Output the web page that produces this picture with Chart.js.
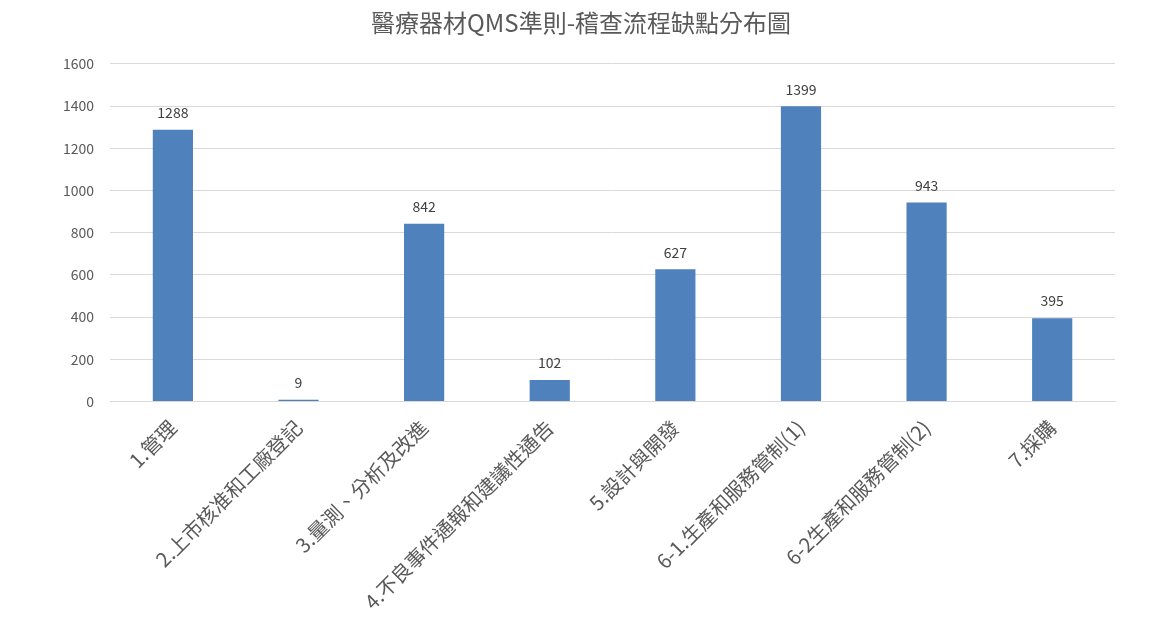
<!DOCTYPE html>
<html>
<head>
<meta charset="utf-8">
<script src="https://cdn.jsdelivr.net/npm/chart.js@4"></script>
<style>
    html, body { margin: 0; padding: 0; background: #fff; }
    #wrap { width: 1171px; height: 627px; }
</style>
</head>
<body>
<div id="wrap"><canvas id="qmsChart"></canvas></div>
<script>
const TITLE = "醫療器材QMS準則-稽查流程缺點分布圖";

// categories
const categories = [
    "1.管理",
    "2.上市核准和工廠登記",
    "3.量測、分析及改進",
    "4.不良事件通報和建議性通告",
    "5.設計與開發",
    "6-1.生產和服務管制(1)",
    "6-2生產和服務管制(2)",
    "7.採購"
];

// values
const defects = [1288, 9, 842, 102, 627, 1399, 943, 395];

// y ticks
const yTicks = [0, 200, 400, 600, 800, 1000, 1200, 1400, 1600];

const FONT = "'Noto Sans CJK TC', 'Noto Sans', sans-serif";

/* value labels above each bar */
const valueLabels = {
    id: "valueLabels",
    afterDatasetsDraw(chart) {
        const ctx = chart.ctx;
        const meta = chart.getDatasetMeta(0);
        ctx.save();
        ctx.font = "14px " + FONT;
        ctx.fillStyle = "#404040";
        ctx.textAlign = "center";
        ctx.textBaseline = "bottom";
        meta.data.forEach((bar, i) => {
            ctx.fillText(defects[i], bar.x, bar.y - 10);
        });
        ctx.restore();
    }
};

new Chart(document.getElementById("qmsChart"), {
    type: "bar",
    data: {
        labels: categories,
        datasets: [{
            data: defects,
            backgroundColor: "#4f81bd",
            borderWidth: 0,
            barPercentage: 0.64,
            categoryPercentage: 0.5
        }]
    },
    options: {
        responsive: true,
        maintainAspectRatio: false,
        animation: false,
        layout: { padding: { left: 47, right: 56, top: 8, bottom: 7 } },
        plugins: {
            legend: { display: false },
            tooltip: { enabled: false },
            title: {
                display: true,
                text: TITLE,
                color: "#595959",
                font: { family: FONT, size: 24, weight: "normal" },
                padding: { top: 0, bottom: 27 }
            }
        },
        scales: {
            y: {
                min: 0,
                max: 1600,
                afterBuildTicks(axis) {
                    axis.ticks = yTicks.map(v => ({ value: v }));
                },
                grid: { color: "#d9d9d9", drawTicks: false },
                border: { display: false },
                ticks: {
                    color: "#595959",
                    font: { family: FONT, size: 14 },
                    padding: 16,
                    callback: v => String(v)
                }
            },
            x: {
                grid: { display: false },
                border: { color: "#d9d9d9" },
                ticks: {
                    color: "#595959",
                    font: { family: FONT, size: 20 },
                    maxRotation: 45,
                    minRotation: 45,
                    padding: 6,
                    autoSkip: false
                }
            }
        }
    },
    plugins: [valueLabels]
});
</script>
</body>
</html>
